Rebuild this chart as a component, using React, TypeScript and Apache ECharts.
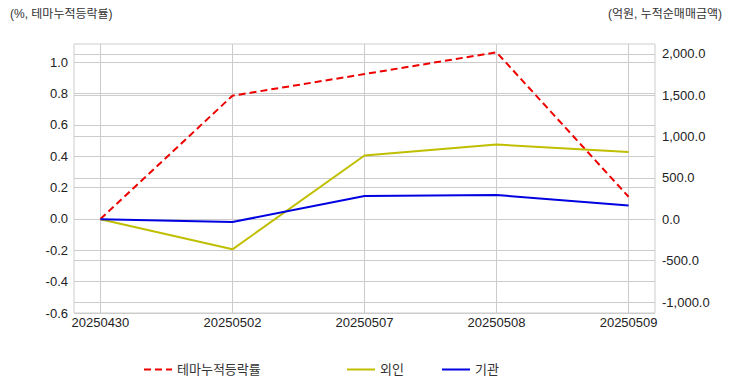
import React, { useEffect, useRef } from "react";
import * as echarts from "echarts";

const dates = ["20250430", "20250502", "20250507", "20250508", "20250509"];
const themeReturn = [0.0, 0.787, 0.925, 1.064, 0.142];
const foreign = [0, -363, 771, 904, 815];
const institution = [0, -33, 282, 294, 166];
const leftTicks = [-0.6, -0.4, -0.2, 0.0, 0.2, 0.4, 0.6, 0.8, 1.0];
const rightTicks = [-1000, -500, 0, 500, 1000, 1500, 2000];
const xTicks = [0, 1, 2, 3, 4];

const FONT = "'Liberation Sans', 'Noto Sans CJK KR', sans-serif";
const GRID_COLOR = "#cccccc";

function fmtRight(v: number) {
  const s = Math.abs(v).toFixed(1);
  const [ip, dp] = s.split(".");
  const withComma = ip.replace(/\B(?=(\d{3})+(?!\d))/g, ",");
  return (v < 0 ? "-" : "") + withComma + "." + dp;
}

export default function App() {
  const ref = useRef<HTMLDivElement>(null);
  useEffect(() => {
    if (!ref.current) return;
    const chart = echarts.init(ref.current, undefined, { renderer: "svg" });
    const toPts = (arr: number[]) => arr.map((v, i) => [i, v]);
    const legendBase = {
      top: 358,
      itemWidth: 28,
      itemHeight: 14,
      itemGap: 12,
      itemStyle: { color: "rgba(0,0,0,0)", borderWidth: 0, opacity: 0 },
      textStyle: { fontSize: 13, color: "#333", fontFamily: FONT },
    };
    chart.setOption({
      animation: false,
      textStyle: { fontFamily: FONT },
      grid: {
        left: 74,
        right: 77,
        top: 44,
        bottom: 79,
        show: true,
        borderColor: GRID_COLOR,
        borderWidth: 1,
        backgroundColor: "transparent",
      },
      graphic: [
        {
          type: "text",
          left: 10,
          top: 8,
          style: { text: "(%, 테마누적등락률)", fill: "#333", font: `12px ${FONT}` },
        },
        {
          type: "text",
          right: 10,
          top: 8,
          style: { text: "(억원, 누적순매매금액)", fill: "#333", font: `12px ${FONT}` },
        },
      ],
      legend: [
        { ...legendBase, data: ["테마누적등락률"], left: 138 },
        { ...legendBase, data: ["외인"], left: 341 },
        { ...legendBase, data: ["기관"], left: 436 },
      ],
      xAxis: {
        type: "value",
        min: -0.2,
        max: 4.2,
        axisLine: { show: false },
        axisTick: { show: false, customValues: xTicks },
        axisLabel: {
          customValues: xTicks,
          formatter: (v: number) => dates[Math.round(v)] ?? "",
          color: "#222",
          fontSize: 13,
          margin: 3,
          fontFamily: FONT,
        },
        splitLine: { show: true, lineStyle: { color: GRID_COLOR, width: 1 } },
      },
      yAxis: [
        {
          type: "value",
          min: -0.6,
          max: 1.117,
          axisLine: { show: false },
          axisTick: { show: false, customValues: leftTicks },
          axisLabel: {
            customValues: leftTicks,
            formatter: (v: number) => v.toFixed(1),
            color: "#222",
            fontSize: 13,
            margin: 6,
            fontFamily: FONT,
          },
          splitLine: { show: true, lineStyle: { color: GRID_COLOR, width: 1 } },
        },
        {
          type: "value",
          min: -1133,
          max: 2120,
          position: "right",
          axisLine: { show: false },
          axisTick: { show: false, customValues: rightTicks },
          axisLabel: {
            customValues: rightTicks,
            formatter: (v: number) => fmtRight(v),
            color: "#222",
            fontSize: 13,
            margin: 7,
            fontFamily: FONT,
          },
          splitLine: { show: true, lineStyle: { color: GRID_COLOR, width: 1 } },
        },
      ],
      series: [
        {
          name: "테마누적등락률",
          type: "line",
          yAxisIndex: 0,
          data: toPts(themeReturn),
          symbol: "none",
          lineStyle: { color: "#ee0000", width: 2, type: [7, 4] },
          itemStyle: { color: "#ee0000" },
        },
        {
          name: "외인",
          type: "line",
          yAxisIndex: 1,
          data: toPts(foreign),
          symbol: "none",
          lineStyle: { color: "#bfbf00", width: 2 },
          itemStyle: { color: "#bfbf00" },
        },
        {
          name: "기관",
          type: "line",
          yAxisIndex: 1,
          data: toPts(institution),
          symbol: "none",
          lineStyle: { color: "#0000e0", width: 2 },
          itemStyle: { color: "#0000e0" },
        },
      ],
    });
    return () => chart.dispose();
  }, []);
  return <div ref={ref} style={{ width: 732, height: 392, margin: -8 }} />;
}
